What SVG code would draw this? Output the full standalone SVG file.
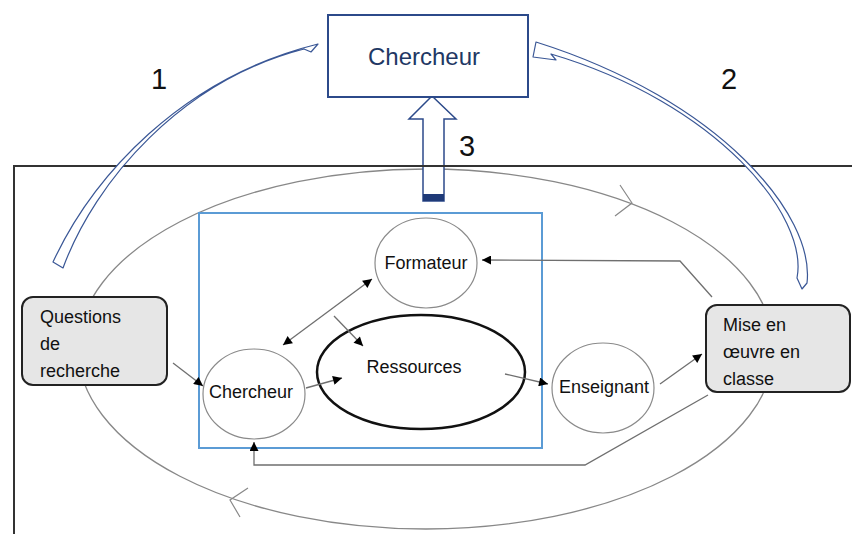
<svg xmlns="http://www.w3.org/2000/svg" width="852" height="534" viewBox="0 0 852 534">
<defs>
<style>
text{font-family:"Liberation Sans",Arial,sans-serif;fill:#111}
.node{fill:#fff;stroke:#8a8a8a;stroke-width:1.2}
.conn{fill:none;stroke:#6f6f6f;stroke-width:1.3}
.ribbon{fill:#fff;stroke:#3a5796;stroke-width:1.2;stroke-linejoin:round}
.lbl{font-size:18px;text-anchor:middle}
.box{fill:#e6e6e6;stroke:#222;stroke-width:2}
.num{font-size:29px;text-anchor:middle}
</style>
<marker id="ah" viewBox="0 0 10 10" refX="10" refY="5" markerWidth="11" markerHeight="9" markerUnits="userSpaceOnUse" orient="auto-start-reverse">
<path d="M0,0 L10,5 L0,10 z" fill="#000"/>
</marker>
</defs>
<rect width="852" height="534" fill="#fff"/>

<g id="cycle">
<ellipse cx="426" cy="349" rx="348" ry="180" fill="none" stroke="#888" stroke-width="1.3"/>
<path d="M620 185 L632 203 L615 216" fill="none" stroke="#888" stroke-width="1.2"/>
<path d="M248 488 L230 500 L240 517" fill="none" stroke="#888" stroke-width="1.2"/>
</g>

<g id="arrow3">
<polygon points="432,96 456,119 444,119 444,201 423,201 423,119 409,119" fill="#fff" stroke="#2c4a8a" stroke-width="1.5"/>
<rect x="423" y="194" width="21" height="7" fill="#1f3a78"/>
<text class="num" x="467" y="156">3</text>
</g>

<g id="frame">
<path d="M14 534 L14 166 L852 166" fill="none" stroke="#333" stroke-width="2"/>
</g>

<g id="group-box">
<rect x="199" y="213" width="343" height="235" fill="none" stroke="#5b9bd5" stroke-width="2"/>
</g>

<g id="arrow1">
<path class="ribbon" d="M53 262 C92 178 180 78 318 44 L311 52 L304 49 C181 81 95 181 63 268 Z"/>
<text class="num" x="159" y="89">1</text>
</g>
<g id="arrow2">
<path class="ribbon" d="M807 283 C815 215 720 100 536 42 L533 57 L556 60 L551 54 C717 103 809 216 797 278 L802 289 Z"/>
<text class="num" x="729" y="89">2</text>
</g>

<g id="chercheur-top">
<rect x="328" y="15" width="200" height="82" fill="#fff" stroke="#2c4a8a" stroke-width="2"/>
<text x="424" y="65" text-anchor="middle" font-size="24" style="fill:#1f3864">Chercheur</text>
</g>

<g id="formateur">
<ellipse class="node" cx="426" cy="263" rx="51" ry="45"/>
<text class="lbl" x="426" y="269">Formateur</text>
</g>

<g id="ressources">
<ellipse cx="421" cy="372" rx="104" ry="57" fill="none" stroke="#111" stroke-width="2.5"/>
<text class="lbl" x="414" y="373" font-size="19.5">Ressources</text>
</g>

<g id="chercheur">
<ellipse class="node" cx="254" cy="394" rx="51" ry="45"/>
<text class="lbl" x="251" y="398">Chercheur</text>
</g>

<g id="enseignant">
<ellipse class="node" cx="603" cy="388" rx="51" ry="45"/>
<text class="lbl" x="604" y="393">Enseignant</text>
</g>

<g id="questions">
<rect class="box" x="22" y="297" width="145" height="88" rx="11"/>
<text x="40" y="323" font-size="18">Questions</text>
<text x="40" y="350" font-size="18">de</text>
<text x="40" y="377" font-size="18">recherche</text>
</g>

<g id="mise-en-oeuvre">
<rect class="box" x="706" y="305" width="144" height="87" rx="11"/>
<text x="723" y="331" font-size="18">Mise en</text>
<text x="723" y="358" font-size="18">œuvre en</text>
<text x="723" y="385" font-size="18">classe</text>
</g>

<g id="connectors">
<line class="conn" x1="173" y1="363" x2="203" y2="386" marker-end="url(#ah)"/>
<line class="conn" x1="283" y1="345" x2="372" y2="279" marker-start="url(#ah)" marker-end="url(#ah)"/>
<line class="conn" x1="334" y1="316" x2="363" y2="346" marker-end="url(#ah)"/>
<line class="conn" x1="306" y1="388" x2="342" y2="378" marker-end="url(#ah)"/>
<line class="conn" x1="505" y1="374" x2="548" y2="384" marker-end="url(#ah)"/>
<line class="conn" x1="660" y1="384" x2="702" y2="354" marker-end="url(#ah)"/>
<polyline class="conn" points="712,297 680,261 482,260" marker-end="url(#ah)"/>
<polyline class="conn" points="708,395 585,465 254,465 254,442" marker-end="url(#ah)"/>
</g>
</svg>
